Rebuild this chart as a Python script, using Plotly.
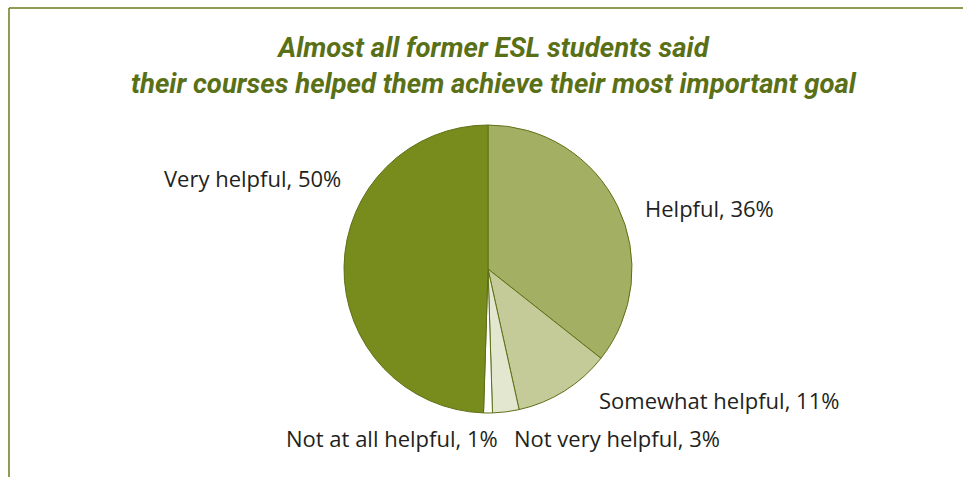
import plotly.graph_objects as go

# Survey responses: how helpful former ESL students found their courses
categories = ["Helpful", "Somewhat helpful", "Not very helpful", "Not at all helpful", "Very helpful"]
percents = [36, 11, 3, 1, 50]
slice_colors = ["#a3b064", "#c4cb98", "#e3e7cf", "#ffffff", "#788c1e"]

title_lines = [
    "Almost all former ESL students said",
    "their courses helped them achieve their most important goal",
]

W, H = 963, 477
cx, cy, r = 488, 269, 144  # pie centre and radius in pixels

fig = go.Figure(
    go.Pie(
        labels=categories,
        values=percents,
        sort=False,
        direction="clockwise",
        rotation=0,
        textinfo="none",
        hoverinfo="label+percent",
        marker=dict(colors=slice_colors, line=dict(color="#5e7016", width=1)),
        domain=dict(
            x=[(cx - r) / W, (cx + r) / W],
            y=[(H - cy - r) / H, (H - cy + r) / H],
        ),
        showlegend=False,
    )
)

# label anchor positions (pixels) for each category
label_pos = {
    "Very helpful": (343, 178, "right"),
    "Helpful": (643, 208, "left"),
    "Somewhat helpful": (597, 400, "left"),
    "Not very helpful": (512, 438, "left"),
    "Not at all helpful": (500, 438, "right"),
}

annotations = []
for cat, val in zip(categories, percents):
    px, py, anchor = label_pos[cat]
    annotations.append(
        dict(
            text=f"{cat}, {val}%",
            x=px / W,
            y=1 - py / H,
            xref="paper",
            yref="paper",
            xanchor=anchor,
            yanchor="middle",
            showarrow=False,
            font=dict(family="Open Sans", size=22, color="#231f20"),
        )
    )

annotations.append(
    dict(
        text="<b><i>" + "<br>".join(title_lines) + "</i></b>",
        x=494 / W,
        y=1 - 65 / H,
        xref="paper",
        yref="paper",
        xanchor="center",
        yanchor="middle",
        showarrow=False,
        font=dict(family="Roboto", size=27.5, color="#5a7016"),
    )
)

# frame around the chart (open to the right and bottom)
shapes = [
    dict(type="line", xref="paper", yref="paper",
         x0=9 / W, y0=1 - 8 / H, x1=1.01, y1=1 - 8 / H,
         line=dict(color="#6b7a1a", width=1.5)),
    dict(type="line", xref="paper", yref="paper",
         x0=9 / W, y0=1 - 8 / H, x1=9 / W, y1=-0.01,
         line=dict(color="#6b7a1a", width=1.5)),
]

fig.update_layout(
    width=W,
    height=H,
    margin=dict(l=0, r=0, t=0, b=0),
    paper_bgcolor="white",
    plot_bgcolor="white",
    annotations=annotations,
    shapes=shapes,
)

fig.write_html("out.html")
